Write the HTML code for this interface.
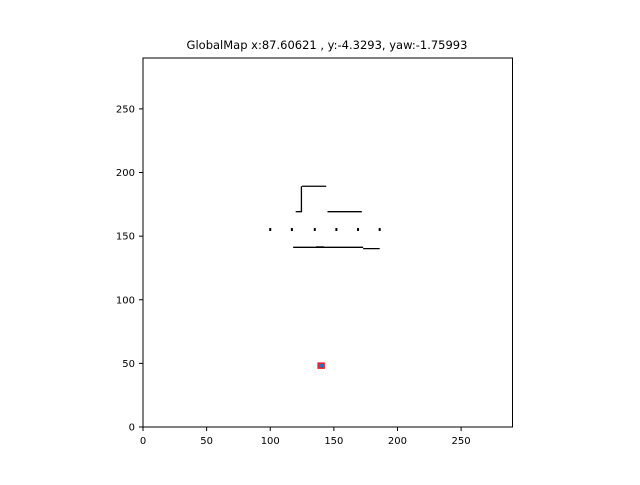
<!DOCTYPE html>
<html><head><meta charset="utf-8"><style>
body{margin:0;background:#fff;}
svg text{font-family:"DejaVu Sans","Liberation Sans",sans-serif;}
</style></head><body>
<svg id="chart" width="640" height="480" xmlns="http://www.w3.org/2000/svg">
<rect width="640" height="480" fill="#fff"/>
<text x="327" y="49" font-size="11.5" text-anchor="middle">GlobalMap x:87.60621 , y:-4.3293, yaw:-1.75993</text>
<g id="marks" transform="translate(0,1)"></g>
<rect x="143" y="58" width="369.5" height="369" fill="none" stroke="#000" stroke-width="1"/>
<g id="axes"></g>
</svg>
<script>
const xTicks=[0,50,100,150,200,250];
const yTicks=[0,50,100,150,200,250];
// obstacle segments [x1,y1,x2,y2] in map cells
const wallSegments=[[125,190,144,190],[124.5,170,124.5,190],[120,170,125,170],[145,170,172,170],[118,142,173,142],[173,141,186,141],[136,142.3,142,142.3]];
const dotCellsX=[100,117,135,152,169,186];
const dotCellsY=[156,156,156,156,156,156];
const robotX=[140];
const robotY=[49];
const X0=143,Y0=427,S=369/290;
const sx=v=>X0+v*S, sy=v=>Y0-v*S;
const ns="http://www.w3.org/2000/svg";
const marks=document.getElementById('marks'), axes=document.getElementById('axes');
function mk(t,a,p){const e=document.createElementNS(ns,t);for(const k in a)e.setAttribute(k,a[k]);p.appendChild(e);return e;}
wallSegments.forEach(s=>{
 const e=mk('line',{x1:sx(s[0]),y1:sy(s[1]),x2:sx(s[2]),y2:sy(s[3]),stroke:'#000','stroke-width':1.3},marks);
 
 
});
dotCellsX.forEach((x,i)=>{
 const e=mk('rect',{x:sx(x)-1,y:sy(dotCellsY[i])-1.5,width:2,height:3,fill:'#000'},marks);
 
 
});
robotX.forEach((x,i)=>{
 const r=mk('rect',{x:sx(x)-3,y:sy(robotY[i])-2.5,width:6,height:5,fill:'#1f77b4',stroke:'#e8232a','stroke-width':1.5},marks);
 
 
});
xTicks.forEach(v=>{
 const l=mk('line',{x1:sx(v),y1:427,x2:sx(v),y2:431,stroke:'#000'},axes);
 
 
 const t=mk('text',{x:sx(v),y:444,'font-size':10,'text-anchor':'middle'},axes);t.textContent=v;
 
 
});
yTicks.forEach(v=>{
 const l=mk('line',{x1:139,y1:sy(v),x2:143,y2:sy(v),stroke:'#000'},axes);
 
 
 const t=mk('text',{x:135,y:sy(v)+3.5,'font-size':10,'text-anchor':'end'},axes);t.textContent=v;
 
 
});
</script>
</body></html>
